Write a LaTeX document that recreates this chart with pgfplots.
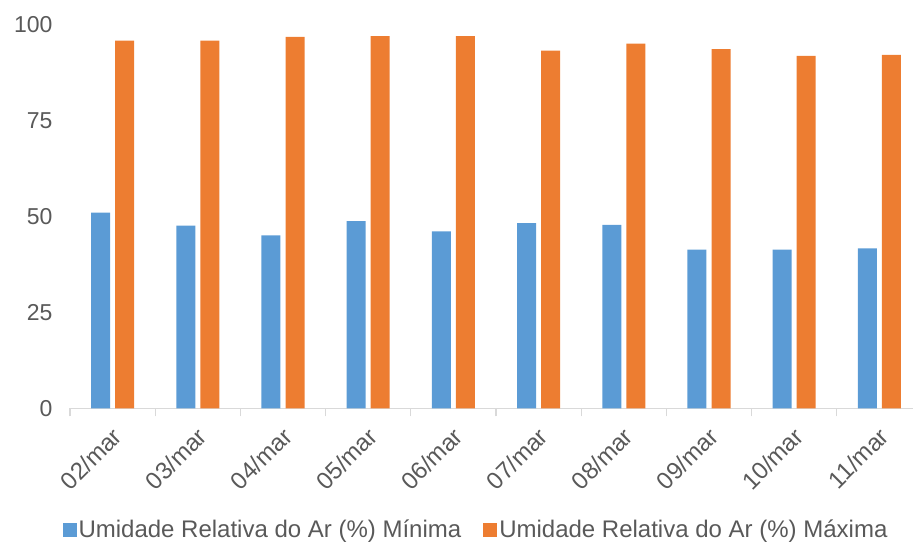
\documentclass[border=0pt]{standalone}
\usepackage{fontspec}
\setmainfont{Liberation Sans}
\usepackage{pgfplots}
\usepackage{pgfplotstable}
\pgfplotsset{compat=1.18}

\definecolor{minblue}{HTML}{5B9BD5}
\definecolor{maxorange}{HTML}{ED7D31}
\definecolor{txtgray}{HTML}{595959}
\definecolor{axgray}{HTML}{D9D9D9}

% Daily relative humidity (%), minimum and maximum
\pgfplotstableread{
x   min   max
0   51.0  95.8
1   47.6  95.8
2   45.1  96.8
3   48.8  97.0
4   46.1  97.0
5   48.3  93.2
6   47.8  95.0
7   41.4  93.6
8   41.4  91.8
9   41.7  92.1
}\umidade

\newcommand{\tickfont}{\fontsize{23}{27}\selectfont}
\newcommand{\legfont}{\fontsize{24}{28}\selectfont}

\begin{document}
\begin{tikzpicture}
\begin{axis}[
  scale only axis, width=852pt, height=384pt,
  xmin=-0.5, xmax=9.5, ymin=0, ymax=100,
  axis x line*=bottom, axis y line*=left,
  y axis line style={draw=none},
  x axis line style={draw=axgray, line width=1.2pt},
  ytick={0,25,50,75,100},
  xtick={0,...,9},
  xticklabels={02/mar,03/mar,04/mar,05/mar,06/mar,07/mar,08/mar,09/mar,10/mar,11/mar},
  minor xtick={-0.5,0.5,...,9.5},
  major tick length=0pt, minor tick length=8pt,
  tick align=outside,
  minor tick style={draw=axgray, line width=1.2pt},
  /pgf/number format/assume math mode=true,
  ticklabel style={font=\tickfont, text=txtgray},
  yticklabel style={anchor=east, xshift=-14pt},
  xticklabel style={font=\legfont, xshift=-1.5pt, yshift=-17.5pt, rotate=45,
    anchor=north east, inner sep=0pt},
  legend style={at={(0.4765,-0.316)}, anchor=center, draw=none, fill=none,
    font=\legfont, text=txtgray, legend columns=2,
    /tikz/every even column/.append style={column sep=20pt}},
  legend image code/.code={\fill[#1] (-1pt,-7pt) rectangle (13pt,7pt);},
]
\addplot[ybar, bar width=0.223, bar shift=-0.141, fill=minblue, draw=none]
  table[x=x, y=min]{\umidade};
\addlegendentry{Umidade Relativa do Ar (\%) Mínima}
\addplot[ybar, bar width=0.223, bar shift=0.141, fill=maxorange, draw=none]
  table[x=x, y=max]{\umidade};
\addlegendentry{Umidade Relativa do Ar (\%) Máxima}
\coordinate (bl) at (rel axis cs:0,0);
\end{axis}
\pgfresetboundingbox
\path[use as bounding box] (bl) ++(-70pt,-136.5pt) rectangle ++(913pt,545pt);
\end{tikzpicture}
\end{document}
